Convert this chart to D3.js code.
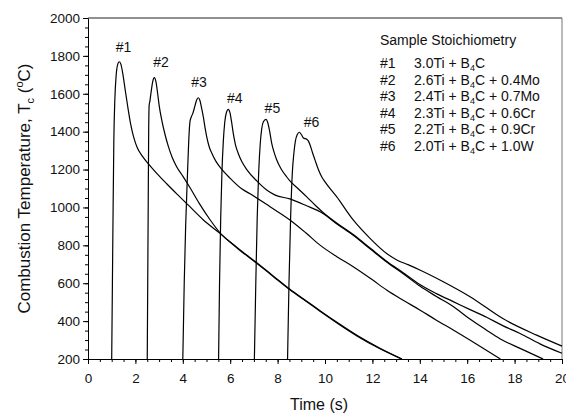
<!DOCTYPE html>
<html>
<head>
<meta charset="utf-8">
<script src="https://cdn.jsdelivr.net/npm/d3@7"></script>
<style>
body { margin: 0; background: #fff; }
svg { font-family: "Liberation Sans", Arial, sans-serif; }
</style>
</head>
<body>
<div id="chart"></div>
<script>

// curves: [time (s), combustion temperature (C)]
var curve1 = [[1.00,200],[1.03,600],[1.06,1000],[1.09,1350],[1.13,1560],[1.19,1700],[1.26,1758],[1.32,1769],
    [1.39,1755],[1.47,1705],[1.57,1620],[1.68,1530],[1.80,1440],[1.93,1370],[2.08,1315],[2.30,1270],[2.55,1230],
    [2.90,1180],[3.32,1125],[3.80,1065],[4.30,1004],[4.87,934],[5.57,863],[6.30,785],[7.12,705],[7.80,637],
    [8.52,565],[9.20,505],[9.79,452],[10.63,380],[11.40,318],[12.30,255],[13.22,200]];

var curve2 = [[2.50,200],[2.52,600],[2.54,1000],[2.56,1400],[2.58,1540],[2.61,1560],[2.63,1578],[2.68,1625],
    [2.73,1664],[2.80,1685],[2.87,1662],[2.94,1600],[3.01,1532],[3.11,1462],[3.25,1385],[3.39,1322],[3.55,1265],
    [3.74,1215],[4.00,1165],[4.30,1105],[4.70,1020],[5.15,935],[5.57,866],[6.30,788],[7.12,708],[7.80,640],
    [8.52,568],[9.20,508],[9.79,455],[10.63,383],[11.40,321],[12.30,258],[13.25,200]];

var curve3 = [[4.00,200],[4.06,600],[4.12,900],[4.19,1150],[4.25,1350],[4.30,1450],[4.35,1475],[4.42,1495],
    [4.51,1535],[4.58,1566],[4.65,1579],[4.72,1566],[4.80,1520],[4.87,1475],[4.94,1420],[5.01,1373],[5.12,1318],
    [5.25,1280],[5.40,1243],[5.57,1213],[5.99,1155],[6.50,1097],[6.84,1072],[7.68,1004],[8.52,934],[9.20,865],
    [9.79,801],[10.50,740],[11.19,687],[12.00,618],[12.60,564],[13.30,510],[14.00,459],[14.70,405],[15.41,353],
    [16.40,278],[17.40,200]];

var curve4 = [[5.51,200],[5.55,600],[5.60,950],[5.65,1180],[5.71,1350],[5.77,1450],[5.85,1505],[5.92,1518],
    [5.99,1500],[6.06,1450],[6.13,1391],[6.22,1332],[6.34,1285],[6.50,1240],[6.70,1200],[7.12,1140],[7.54,1092],
    [7.90,1065],[8.52,1045],[9.20,1010],[9.93,967],[10.49,914],[11.19,853],[11.90,782],[12.60,712],[13.30,650],
    [14.00,585],[14.70,530],[15.41,477],[16.10,412],[16.82,352],[17.38,307],[18.30,252],[19.20,200]];

var curve5 = [[7.02,200],[7.08,600],[7.14,950],[7.20,1180],[7.27,1340],[7.33,1415],[7.40,1452],[7.51,1465],
    [7.58,1450],[7.66,1405],[7.75,1340],[7.85,1292],[7.96,1252],[8.15,1203],[8.38,1162],[8.52,1140],[8.90,1095],
    [9.23,1056],[9.60,1010],[9.93,972],[10.49,918],[11.19,857],[11.90,786],[12.60,716],[13.30,655],[14.00,593],
    [14.70,545],[15.41,503],[16.10,462],[16.82,420],[17.52,375],[18.23,335],[19.07,280],[20.00,230]];

var curve6 = [[8.42,200],[8.48,600],[8.55,950],[8.62,1180],[8.69,1290],[8.75,1350],[8.83,1385],[8.92,1397],
    [9.00,1385],[9.09,1367],[9.23,1360],[9.30,1350],[9.37,1330],[9.47,1290],[9.58,1250],[9.72,1200],[9.86,1162],
    [10.00,1135],[10.49,1057],[11.19,934],[11.90,837],[12.60,757],[13.03,723],[13.50,698],[14.00,670],[14.99,608],
    [16.12,529],[17.52,412],[18.93,326],[20.00,268]];

var curves = [curve1, curve2, curve3, curve4, curve5, curve6];

// sample names, label anchors (data units) and legend formulas ("_4" = subscript 4)
var sampleNames = ["#1", "#2", "#3", "#4", "#5", "#6"];
var labelTime = [1.50, 3.08, 4.68, 6.19, 7.78, 9.43];
var labelTemp = [1820, 1743, 1636, 1553, 1499, 1425];
var formulas = ["3.0Ti + B_4C", "2.6Ti + B_4C + 0.4Mo", "2.4Ti + B_4C + 0.7Mo",
    "2.3Ti + B_4C + 0.6Cr", "2.2Ti + B_4C + 0.9Cr", "2.0Ti + B_4C + 1.0W"];

// ticks
var xTicks = d3.range(0, 21, 2);
var xMinor = d3.range(0, 20.01, 0.5);
var yTicks = d3.range(200, 2001, 200);
var yMinor = d3.range(200, 2001, 50);

// plot settings
var W = 566, H = 414;
var margin = {top: 18, right: 4, bottom: 55, left: 88};

var svg = d3.select("#chart").append("svg")
    .attr("width", W).attr("height", H);

var x = d3.scaleLinear().domain([0, 20]).range([margin.left, W - margin.right]);
var y = d3.scaleLinear().domain([200, 2000]).range([H - margin.bottom, margin.top]);

// frame (top and right)
svg.append("line").attr("x1", x(0)).attr("x2", x(20)).attr("y1", y(2000)).attr("y2", y(2000))
    .attr("stroke", "#222").attr("stroke-width", 1);
svg.append("line").attr("x1", x(20)).attr("x2", x(20)).attr("y1", y(2000)).attr("y2", y(200))
    .attr("stroke", "#777").attr("stroke-width", 1);

// minor ticks
svg.append("g").attr("transform", "translate(0," + y(200) + ")")
    .call(d3.axisBottom(x).tickValues(xMinor).tickSize(3).tickFormat(""))
    .call(function (g) { g.select(".domain").remove(); });
svg.append("g").attr("transform", "translate(" + x(0) + ",0)")
    .call(d3.axisLeft(y).tickValues(yMinor).tickSize(3).tickFormat(""))
    .call(function (g) { g.select(".domain").remove(); });

// major axes
var gx = svg.append("g").attr("transform", "translate(0," + y(200) + ")")
    .call(d3.axisBottom(x).tickValues(xTicks).tickSize(5).tickPadding(9).tickSizeOuter(0)
        .tickFormat(d3.format("d")));
var gy = svg.append("g").attr("transform", "translate(" + x(0) + ",0)")
    .call(d3.axisLeft(y).tickValues(yTicks).tickSize(5).tickPadding(3).tickSizeOuter(0)
        .tickFormat(d3.format("d")));
[gx, gy].forEach(function (g) {
    g.selectAll("text").attr("font-size", "13.5px").attr("font-family", "Liberation Sans, Arial, sans-serif")
        .attr("fill", "#111");
});

// axis titles
svg.append("text").text("Time (s)")
    .attr("x", (x(0) + x(20)) / 2 - 6).attr("y", 410)
    .attr("text-anchor", "middle").attr("font-size", "16px").attr("fill", "#111");

var ylab = svg.append("text")
    .attr("transform", "translate(30," + ((y(200) + y(2000)) / 2) + ") rotate(-90)")
    .attr("text-anchor", "middle").attr("font-size", "17px").attr("fill", "#111");
ylab.append("tspan").text("Combustion Temperature, T");
ylab.append("tspan").text("c").attr("font-size", "11px").attr("dy", 4);
ylab.append("tspan").text(" (").attr("dy", -4);
ylab.append("tspan").text("o").attr("font-size", "11px").attr("dy", -7);
ylab.append("tspan").text("C)").attr("dy", 7);

// curves
var line = d3.line()
    .x(function (d) { return x(d[0]); })
    .y(function (d) { return y(d[1]); })
    .curve(d3.curveMonotoneX);

svg.append("g").selectAll("path").data(curves).enter().append("path")
    .attr("d", line)
    .attr("fill", "none")
    .attr("stroke", "#000")
    .attr("stroke-width", 1.2);

// peak labels
svg.append("g").selectAll("text").data(sampleNames).enter().append("text")
    .text(function (d) { return d; })
    .attr("x", function (d, i) { return x(labelTime[i]); })
    .attr("y", function (d, i) { return y(labelTemp[i]); })
    .attr("text-anchor", "middle").attr("font-size", "14px").attr("fill", "#111");

// legend
var legend = svg.append("g").attr("font-size", "14px").attr("fill", "#111");
legend.append("text").text("Sample Stoichiometry").attr("x", 380).attr("y", 45);
sampleNames.forEach(function (name, i) {
    var yy = 68 + i * 16.5;
    legend.append("text").text(name).attr("x", 380).attr("y", yy);
    var t = legend.append("text").attr("x", 414).attr("y", yy);
    var parts = formulas[i].split("_4");
    t.append("tspan").text(parts[0]);
    t.append("tspan").text("4").attr("font-size", "9px").attr("dy", 3);
    t.append("tspan").text(parts[1]).attr("dy", -3);
});

</script>
</body>
</html>
